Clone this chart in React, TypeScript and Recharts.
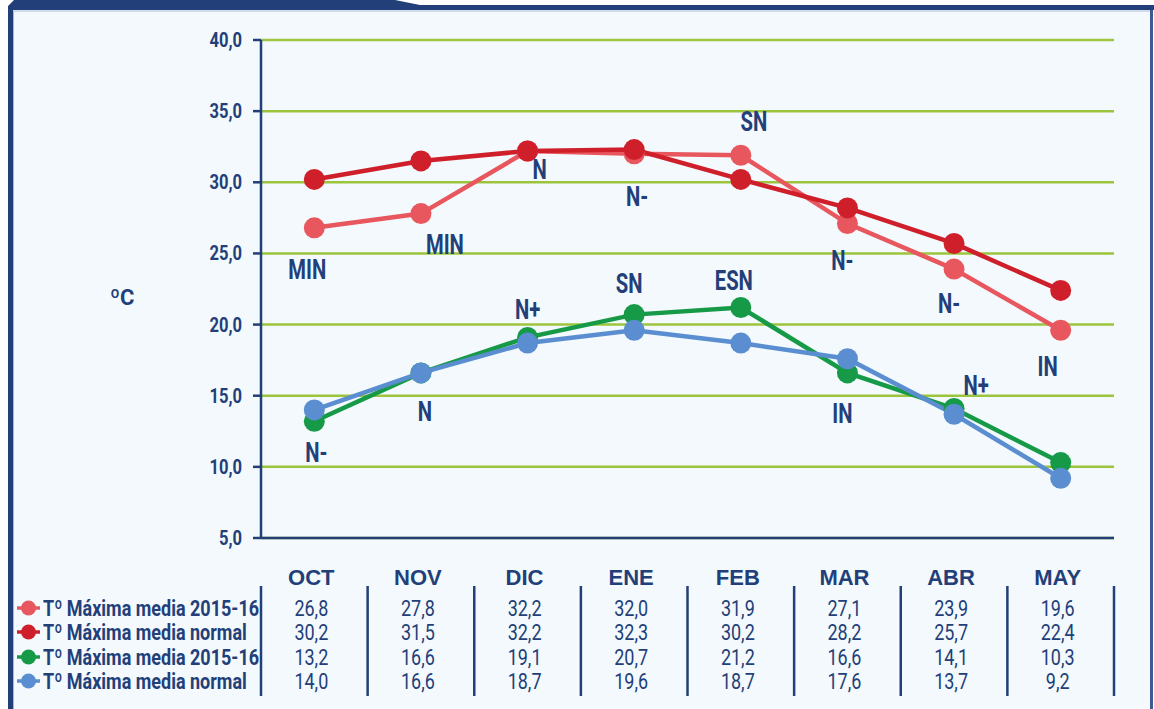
import React from 'react';
import { LineChart, Line, XAxis, YAxis, CartesianGrid, LabelList, Legend } from 'recharts';

// ---------- data ----------
const months = ['OCT', 'NOV', 'DIC', 'ENE', 'FEB', 'MAR', 'ABR', 'MAY'];
const maxMedia201516 = [26.8, 27.8, 32.2, 32.0, 31.9, 27.1, 23.9, 19.6];
const maxMediaNormal = [30.2, 31.5, 32.2, 32.3, 30.2, 28.2, 25.7, 22.4];
const minMedia201516 = [13.2, 16.6, 19.1, 20.7, 21.2, 16.6, 14.1, 10.3];
const minMediaNormal = [14.0, 16.6, 18.7, 19.6, 18.7, 17.6, 13.7, 9.2];
const maxLabels = ['MIN', 'MIN', 'N', 'N-', 'SN', 'N-', 'N-', 'IN'];
const minLabels = ['N-', 'N', 'N+', 'SN', 'ESN', 'IN', 'N+', ''];
const yTicks = [5, 10, 15, 20, 25, 30, 35, 40];
const seriesNames = [
  'Tº Máxima media 2015-16',
  'Tº Máxima media normal',
  'Tº Máxima media 2015-16',
  'Tº Máxima media normal',
];
const yLabel = 'ºC';

// ---------- style ----------
const NAVY = '#233f79';
const GRID = '#9cc43c';
const BG = '#f3f9fc';
const C_LRED = '#e8575e';
const C_DRED = '#cf1f2a';
const C_GREEN = '#169a47';
const C_BLUE = '#5a8ed0';
const seriesColors = [C_LRED, C_DRED, C_GREEN, C_BLUE];
const NARROW = "Roboto, 'Liberation Sans', sans-serif";
const WIDE = "'Liberation Sans', Arial, sans-serif";

// label offsets (dx, dy from point to label centre)
const maxLabelOffsets = [[-7, 42], [24, 31], [12, 19], [3, 43], [13, -33], [-5, 37], [-5, 35], [-13, 37]];
const minLabelOffsets = [[2, 32], [4, 39], [0, -27], [-5, -31], [-7, -27], [-5, 41], [22, -23], [0, 0]];
const rowOffsets = [70, 94, 119, 143];

const data = months.map((m, i) => ({
  month: m,
  maxMedia201516: maxMedia201516[i],
  maxMediaNormal: maxMediaNormal[i],
  minMedia201516: minMedia201516[i],
  minMediaNormal: minMediaNormal[i],
  maxLabel: maxLabels[i],
  minLabel: minLabels[i],
}));

const fmt = (v: number) => v.toFixed(1).replace('.', ',');

const makeLabel = (offsets: number[][]) => (p: any) => {
  const { x, y, value, index } = p;
  if (!value) return null;
  const off = offsets[index] || [0, 0];
  const cx = Number(x) + off[0];
  const cy = Number(y) + off[1];
  return (
    <text
      transform={`translate(${cx},${cy}) scale(0.88,1.18)`}
      x={0}
      y={0}
      textAnchor="middle"
      dominantBaseline="central"
      fill={NAVY}
      fontFamily={NARROW}
      fontWeight="bold"
      fontSize={23}
    >
      {value}
    </text>
  );
};

const TableTick = (props: any) => {
  const { x, y, payload } = props;
  const i = months.indexOf(payload.value);
  const half = payload.offset || 53.3;
  const rows = [maxMedia201516, maxMediaNormal, minMedia201516, minMediaNormal];
  return (
    <g>
      <text x={x - 3} y={y + 47} textAnchor="middle" fill={NAVY} fontFamily={WIDE} fontWeight="bold" fontSize={22}>
        {payload.value}
      </text>
      {rows.map((r, k) => (
        <text
          key={k}
          transform={`translate(${x - 3},${y + rowOffsets[k]}) scale(0.9,1.1)`}
          x={0}
          y={0}
          textAnchor="middle"
          dominantBaseline="central"
          fill={NAVY}
          fontFamily={NARROW}
          fontSize={20}
        >
          {fmt(r[i])}
        </text>
      ))}
      {i === 0 && <line x1={x - half} x2={x - half} y1={y + 48} y2={y + 158} stroke={NAVY} strokeWidth={2.5} />}
      <line x1={x + half} x2={x + half} y1={y + 48} y2={y + 158} stroke={NAVY} strokeWidth={2.5} />
    </g>
  );
};

const LegendContent = () => (
  <svg width={250} height={110} style={{ display: 'block', overflow: 'visible' }}>
    {seriesNames.map((name, k) => {
      const cy = rowOffsets[k] - 70 + 14;
      return (
        <g key={k}>
          <line x1={1} x2={24} y1={cy} y2={cy} stroke={seriesColors[k]} strokeWidth={3.5} />
          <circle cx={12.5} cy={cy} r={7.5} fill={seriesColors[k]} />
          <text
            transform={`translate(27,${cy}) scale(0.9,1.1)`}
            x={0}
            y={0}
            dominantBaseline="central"
            fill={NAVY}
            fontFamily={NARROW}
            fontWeight="bold"
            fontSize={20}
          >
            {name}
          </text>
        </g>
      );
    })}
  </svg>
);

const YTick = (props: any) => {
  const { x, y, payload } = props;
  return (
    <text
      transform={`translate(${x},${y}) scale(0.92,1.1)`}
      x={0}
      y={0}
      textAnchor="end"
      dominantBaseline="central"
      fill={NAVY}
      fontFamily={NARROW}
      fontWeight="bold"
      fontSize={18}
    >
      {fmt(payload.value)}
    </text>
  );
};

const Frame = () => (
  <svg width={1154} height={709} style={{ position: 'absolute', left: 0, top: 0 }}>
    <rect x={0} y={0} width={1154} height={709} fill="#ffffff" />
    <rect x={13} y={11} width={1137} height={698} fill={BG} />
    <polygon points="8,6 14,0 395,0 420,5 1154,5 1154,10 8,10" fill={NAVY} />
    <rect x={8} y={10} width={5} height={699} fill={NAVY} />
    <rect x={1150} y={10} width={3} height={699} fill="#3d5a92" />
    <line x1={13} x2={1150} y1={11} y2={11} stroke="#a9b8d6" strokeWidth={1.2} />
    <line x1={13.5} x2={13.5} y1={11} y2={709} stroke="#a9b8d6" strokeWidth={1} />
  </svg>
);

export default function App() {
  return (
    <div style={{ position: 'absolute', left: 0, top: 0, width: 1154, height: 709 }}>
      <Frame />
      <div style={{ position: 'absolute', left: 0, top: 0 }}>
        <LineChart width={1154} height={709} data={data} margin={{ top: 40, right: 40, bottom: 0, left: 0 }}>
          <CartesianGrid vertical={false} stroke={GRID} strokeWidth={2.5} />
          <XAxis
            dataKey="month"
            scale="band"
            height={171}
            axisLine={{ stroke: NAVY, strokeWidth: 2.5 }}
            tickLine={false}
            tickSize={0}
            tickMargin={0}
            interval={0}
            tick={<TableTick />}
          />
          <YAxis
            width={261}
            domain={[5, 40]}
            ticks={yTicks}
            allowDataOverflow
            axisLine={{ stroke: NAVY, strokeWidth: 2.5 }}
            tickLine={{ stroke: NAVY, strokeWidth: 2.5 }}
            tickSize={8}
            tickMargin={11}
            tick={<YTick />}
            label={{
              value: yLabel,
              position: 'insideLeft',
              offset: 110,
              dy: 8,
              fill: NAVY,
              fontFamily: NARROW,
              fontWeight: 'bold',
              fontSize: 22,
            }}
          />
          <Legend
            layout="horizontal"
            verticalAlign="middle"
            align="center"
            content={<LegendContent />}
            wrapperStyle={{ position: 'absolute', left: 16, top: 594, width: 250, height: 110 }}
          />
          <Line
            name={seriesNames[0]}
            dataKey="maxMedia201516"
            stroke={C_LRED}
            strokeWidth={4.5}
            dot={{ r: 10.5, fill: C_LRED, stroke: 'none' }}
            activeDot={false}
            isAnimationActive={false}
          >
            <LabelList dataKey="maxLabel" content={makeLabel(maxLabelOffsets)} />
          </Line>
          <Line
            name={seriesNames[1]}
            dataKey="maxMediaNormal"
            stroke={C_DRED}
            strokeWidth={4.5}
            dot={{ r: 10.5, fill: C_DRED, stroke: 'none' }}
            activeDot={false}
            isAnimationActive={false}
          />
          <Line
            name={seriesNames[2]}
            dataKey="minMedia201516"
            stroke={C_GREEN}
            strokeWidth={4.5}
            dot={{ r: 10.5, fill: C_GREEN, stroke: 'none' }}
            activeDot={false}
            isAnimationActive={false}
          >
            <LabelList dataKey="minLabel" content={makeLabel(minLabelOffsets)} />
          </Line>
          <Line
            name={seriesNames[3]}
            dataKey="minMediaNormal"
            stroke={C_BLUE}
            strokeWidth={4.5}
            dot={{ r: 10.5, fill: C_BLUE, stroke: 'none' }}
            activeDot={false}
            isAnimationActive={false}
          />
        </LineChart>
      </div>
    </div>
  );
}
